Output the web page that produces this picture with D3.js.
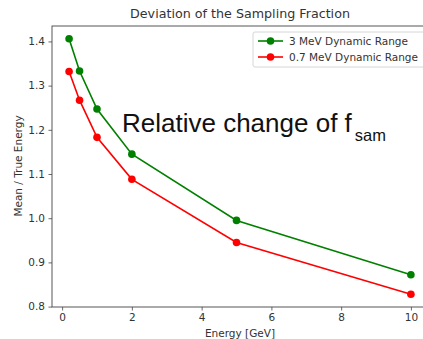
<!DOCTYPE html>
<html><head><meta charset="utf-8">
<script src="https://cdn.jsdelivr.net/npm/d3@7"></script>
<style>body{margin:0;background:#fff;}svg{display:block;}</style>
</head><body>
<script>
const energies = [0.2, 0.5, 1, 2, 5, 10];
const range3MeV = [1.406, 1.333, 1.247, 1.145, 0.995, 0.872];
const range07MeV = [1.332, 1.267, 1.183, 1.088, 0.945, 0.828];
const seriesNames = ["3 MeV Dynamic Range", "0.7 MeV Dynamic Range"];
const seriesColors = ["green", "red"];
const xTicks = [0, 2, 4, 6, 8, 10];
const yTicks = [0.8, 0.9, 1.0, 1.1, 1.2, 1.3, 1.4];

const W = 423, H = 339;
const m = {left: 52, top: 26, right: 428, bottom: 307};
const svg = d3.select("body").append("svg").attr("width", W).attr("height", H);

const x = d3.scaleLinear().domain([-0.29, 10.49]).range([m.left, m.right]);
const y = d3.scaleLinear().domain([0.7991, 1.4349]).range([m.bottom, m.top]);

const font = "DejaVu Sans, sans-serif";
const fs = 10.5;

// axes
const xAxis = svg.append("g").attr("transform", `translate(0,${m.bottom})`)
  .call(d3.axisBottom(x).tickValues(xTicks).tickFormat(d3.format("d")).tickSizeOuter(0).tickSize(3.5).tickPadding(3.5));
const yAxis = svg.append("g").attr("transform", `translate(${m.left},0)`)
  .call(d3.axisLeft(y).tickValues(yTicks).tickFormat(d3.format(".1f")).tickSizeOuter(0).tickSize(3.5).tickPadding(3.5));
[xAxis, yAxis].forEach(a => {
  a.selectAll("text").attr("font-family", font).attr("font-size", fs).attr("fill", "#333");
  a.selectAll("line").attr("stroke", "#444").attr("stroke-width", 0.8);
  a.select(".domain").remove();
});

// frame
svg.append("rect").attr("x", m.left).attr("y", m.top)
  .attr("width", m.right - m.left).attr("height", m.bottom - m.top)
  .attr("fill", "none").attr("stroke", "#444").attr("stroke-width", 0.9);

// series
const allSeries = [range3MeV, range07MeV];
allSeries.forEach((vals, i) => {
  const pts = energies.map((e, j) => [e, vals[j]]);
  svg.append("path").datum(pts)
    .attr("d", d3.line().x(d => x(d[0])).y(d => y(d[1])))
    .attr("fill", "none").attr("stroke", seriesColors[i]).attr("stroke-width", 1.6);
  svg.selectAll(null).data(pts).enter().append("circle")
    .attr("cx", d => x(d[0])).attr("cy", d => y(d[1])).attr("r", 3.8)
    .attr("fill", seriesColors[i]);
});

// title
svg.append("text").attr("x", 240).attr("y", 18)
  .attr("text-anchor", "middle").attr("font-family", font).attr("font-size", 12.7).attr("fill", "#333")
  .text("Deviation of the Sampling Fraction");

// axis labels
svg.append("text").attr("x", 240).attr("y", 337)
  .attr("text-anchor", "middle").attr("font-family", font).attr("font-size", fs).attr("fill", "#333")
  .text("Energy [GeV]");
svg.append("text").attr("transform", `translate(22,166) rotate(-90)`)
  .attr("text-anchor", "middle").attr("font-family", font).attr("font-size", fs).attr("fill", "#333")
  .text("Mean / True Energy");

// legend
const lg = svg.append("g");
lg.append("rect").attr("x", 253).attr("y", 32).attr("width", 180).attr("height", 35).attr("rx", 2)
  .attr("fill", "white").attr("fill-opacity", 0.8).attr("stroke", "#ccc").attr("stroke-width", 0.8);
seriesNames.forEach((n, i) => {
  const yy = 41 + i * 16;
  lg.append("line").attr("x1", 258).attr("x2", 283).attr("y1", yy).attr("y2", yy)
    .attr("stroke", seriesColors[i]).attr("stroke-width", 1.6);
  lg.append("circle").attr("cx", 270.5).attr("cy", yy).attr("r", 3.8).attr("fill", seriesColors[i]);
  lg.append("text").attr("x", 289).attr("y", yy + 3.8).attr("font-family", font).attr("font-size", fs)
    .attr("fill", "#333").text(n);
});

// annotation
const ann = svg.append("text").attr("x", 122).attr("y", 132)
  .attr("font-family", "Liberation Sans, Arial, sans-serif").attr("font-size", 26).attr("fill", "#111");
ann.append("tspan").text("Relative change of f");
ann.append("tspan").attr("dy", 9).attr("dx", 3).attr("font-size", 16.5).text("sam");
</script>
</body></html>
